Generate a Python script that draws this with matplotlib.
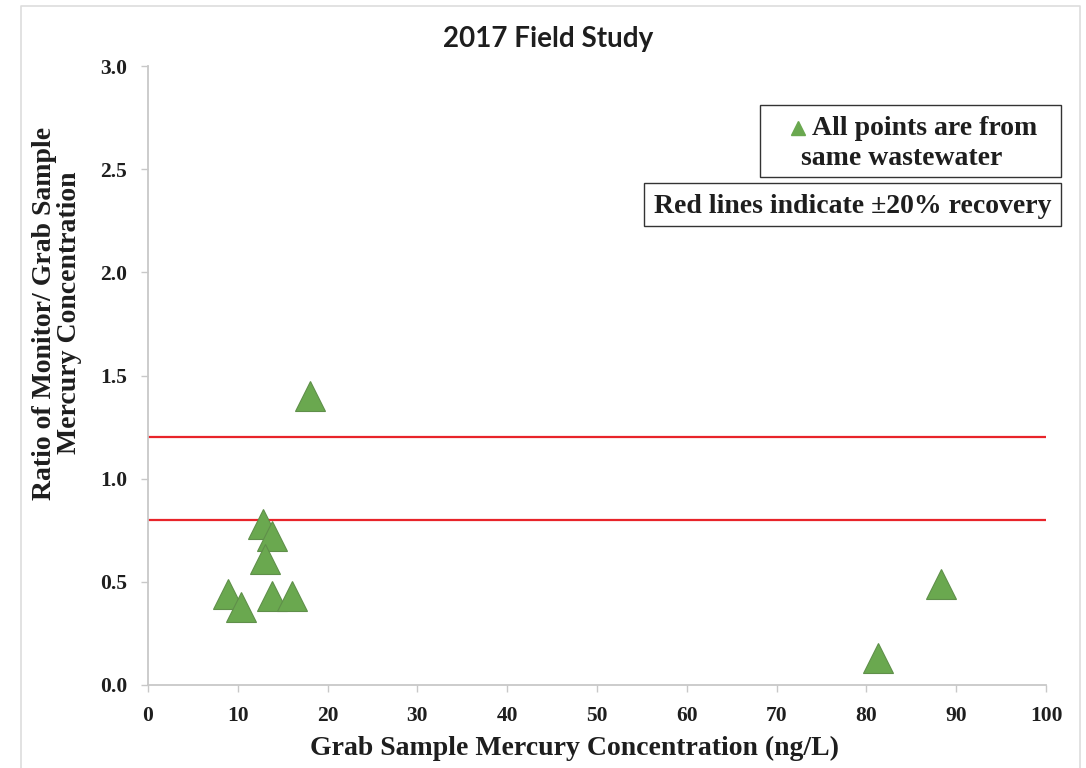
import matplotlib
matplotlib.use("Agg")
import matplotlib.pyplot as plt
from matplotlib.patches import Rectangle
from matplotlib.lines import Line2D

# Data
grab_conc = [18.0, 12.8, 13.8, 13.0, 8.9, 10.4, 13.8, 16.0, 88.3, 81.3]
ratio = [1.40, 0.78, 0.72, 0.61, 0.44, 0.38, 0.43, 0.43, 0.49, 0.13]
red_lines = [1.2, 0.8]
x_ticks = list(range(0, 101, 10))
y_ticks = [0.0, 0.5, 1.0, 1.5, 2.0, 2.5, 3.0]

W, H = 1086, 768
fig = plt.figure(figsize=(W / 100, H / 100), dpi=100)

def fx(px):
    return px / W

def fy(py):
    return 1 - py / H

ax = fig.add_axes([fx(148), fy(685), fx(1046) - fx(148), fy(66) - fy(685)])

green = "#6aa84f"
serif = ["Liberation Serif", "DejaVu Serif"]
txt = "#1e1e1e"

for yv in red_lines:
    ax.plot([0, 100], [yv, yv], color="#e8242a", lw=1.6, zorder=2)

ax.plot(grab_conc, ratio, linestyle="none", marker="^", ms=22,
        markerfacecolor=green, markeredgecolor="#5f8f4a", markeredgewidth=0.8,
        zorder=3)

ax.set_xlim(0, 100)
ax.set_ylim(0, 3.0)
ax.set_xticks(x_ticks)
ax.set_yticks(y_ticks)
ax.set_xticklabels([str(v) for v in x_ticks], fontfamily=serif,
                   fontweight="bold", fontsize=15.5)
ax.set_yticklabels([f"{v:.1f}" for v in y_ticks], fontfamily=serif,
                   fontweight="bold", fontsize=15.5)
for s in ["top", "right"]:
    ax.spines[s].set_visible(False)
for s in ["left", "bottom"]:
    ax.spines[s].set_color("#c8c8c8")
    ax.spines[s].set_linewidth(1.3)
ax.tick_params(axis="both", colors="#c8c8c8", length=5, width=1, labelcolor=txt)
ax.tick_params(axis="x", pad=10)
ax.tick_params(axis="y", pad=10)

# Axis titles
fig.text(fx(575), fy(748), "Grab Sample Mercury Concentration (ng/L)", fontfamily=serif,
         fontweight="bold", fontsize=20, color=txt, ha="center", va="center")
fig.text(fx(57), fy(313), "Ratio of Monitor/ Grab Sample\nMercury Concentration",
         fontfamily=serif, fontweight="bold", fontsize=20, color=txt,
         ha="center", va="center", rotation=90, multialignment="center",
         linespacing=0.95)

fig.text(fx(548), fy(47), "2017 Field Study",
         fontfamily=["Lato", "Open Sans", "DejaVu Sans"],
         fontweight="bold", fontsize=20, ha="center", va="baseline", color=txt)

# Annotation boxes
fig.add_artist(Rectangle((fx(760), fy(177)), fx(1061) - fx(760), fy(105) - fy(177),
                         transform=fig.transFigure, fill=False, ec="#333333", lw=1.0))
fig.add_artist(Line2D([fx(798)], [fy(128)], marker="^", ms=10, color=green,
                      markeredgecolor=green, transform=fig.transFigure))
fig.text(fx(925), fy(135), "All points are from", fontfamily=serif, fontweight="bold",
         fontsize=20, ha="center", va="baseline", color=txt)
fig.text(fx(902), fy(165), "same wastewater", fontfamily=serif, fontweight="bold",
         fontsize=20, ha="center", va="baseline", color=txt)

fig.add_artist(Rectangle((fx(644), fy(226)), fx(1061) - fx(644), fy(183) - fy(226),
                         transform=fig.transFigure, fill=False, ec="#333333", lw=1.0))
fig.text(fx(853), fy(213), "Red lines indicate \u00b120% recovery", fontfamily=serif,
         fontweight="bold", fontsize=20, ha="center", va="baseline", color=txt)

# Outer chart border
fig.add_artist(Line2D([fx(21), fx(21), fx(1080), fx(1080)],
                      [fy(770), fy(6), fy(6), fy(770)],
                      transform=fig.transFigure, color="#dddddd", lw=1.2))

fig.savefig("out.png", dpi=100)
